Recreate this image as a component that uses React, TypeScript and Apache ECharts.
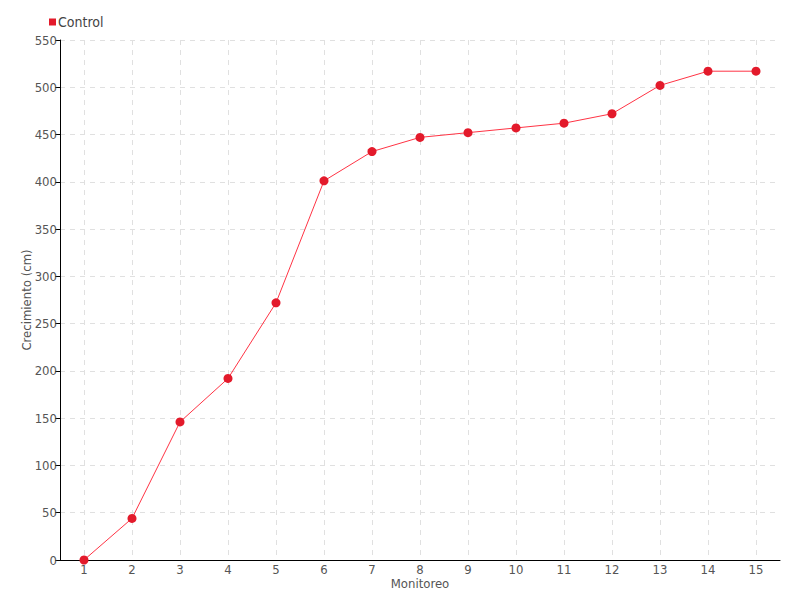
import React, { useEffect, useRef } from "react";
import * as echarts from "echarts";

const categories = ["1", "2", "3", "4", "5", "6", "7", "8", "9", "10", "11", "12", "13", "14", "15"];
const controlValues = [0, 44, 146, 192, 272, 401, 432, 447, 452, 457, 462, 472, 502, 517, 517];
const seriesName = "Control";
const yAxisName = "Crecimiento (cm)";
const xAxisName = "Monitoreo";

const FONT = "'DejaVu Sans Condensed', Roboto, sans-serif";

export default function App() {
  const ref = useRef<HTMLDivElement>(null);
  useEffect(() => {
    if (!ref.current) return;
    const chart = echarts.init(ref.current, undefined, { renderer: "svg" });
    chart.setOption({
      animation: false,
      textStyle: { fontFamily: FONT, color: "#555" },
      legend: {
        left: 44,
        top: 10,
        itemWidth: 7,
        itemHeight: 7,
        itemGap: 4,
        icon: "rect",
        textStyle: { fontFamily: FONT, fontSize: 14, color: "#444", padding: [0, 0, 0, -3] },
        data: [seriesName],
      },
      grid: { left: 60, right: 20, top: 40, bottom: 40, containLabel: false },
      xAxis: {
        type: "category",
        data: categories,
        boundaryGap: true,
        name: xAxisName,
        nameLocation: "middle",
        nameGap: 17,
        nameMoveOverlap: false,
        nameTextStyle: { fontFamily: FONT, fontSize: 13, lineHeight: 13, color: "#555" },
        axisLine: { lineStyle: { color: "#000", width: 1 } },
        axisTick: { alignWithLabel: true, length: 5, lineStyle: { color: "#000" } },
        axisLabel: { fontFamily: FONT, fontSize: 13, lineHeight: 13, color: "#555", margin: 3 },
        splitLine: { show: true, alignWithLabel: true, lineStyle: { type: [5, 5], color: "#e0e0e0" } },
      },
      yAxis: {
        type: "value",
        min: 0,
        max: 550,
        interval: 50,
        name: yAxisName,
        nameLocation: "middle",
        nameGap: 27,
        nameMoveOverlap: false,
        nameTextStyle: { fontFamily: FONT, fontSize: 13, color: "#555" },
        axisLine: { show: true, lineStyle: { color: "#000", width: 1 } },
        axisTick: { show: true, length: 5, lineStyle: { color: "#000" } },
        axisLabel: { fontFamily: FONT, fontSize: 13, color: "#555", margin: 3 },
        splitLine: { show: true, lineStyle: { type: [5, 5], color: "#e0e0e0" } },
      },
      series: [
        {
          name: seriesName,
          type: "line",
          data: controlValues,
          symbol: "circle",
          symbolSize: 9,
          itemStyle: { color: "#e31a2b" },
          lineStyle: { color: "#ff3344", width: 1 },
        },
      ],
    });
    return () => chart.dispose();
  }, []);
  return <div ref={ref} style={{ width: 800, height: 600, margin: -8 }} />;
}
